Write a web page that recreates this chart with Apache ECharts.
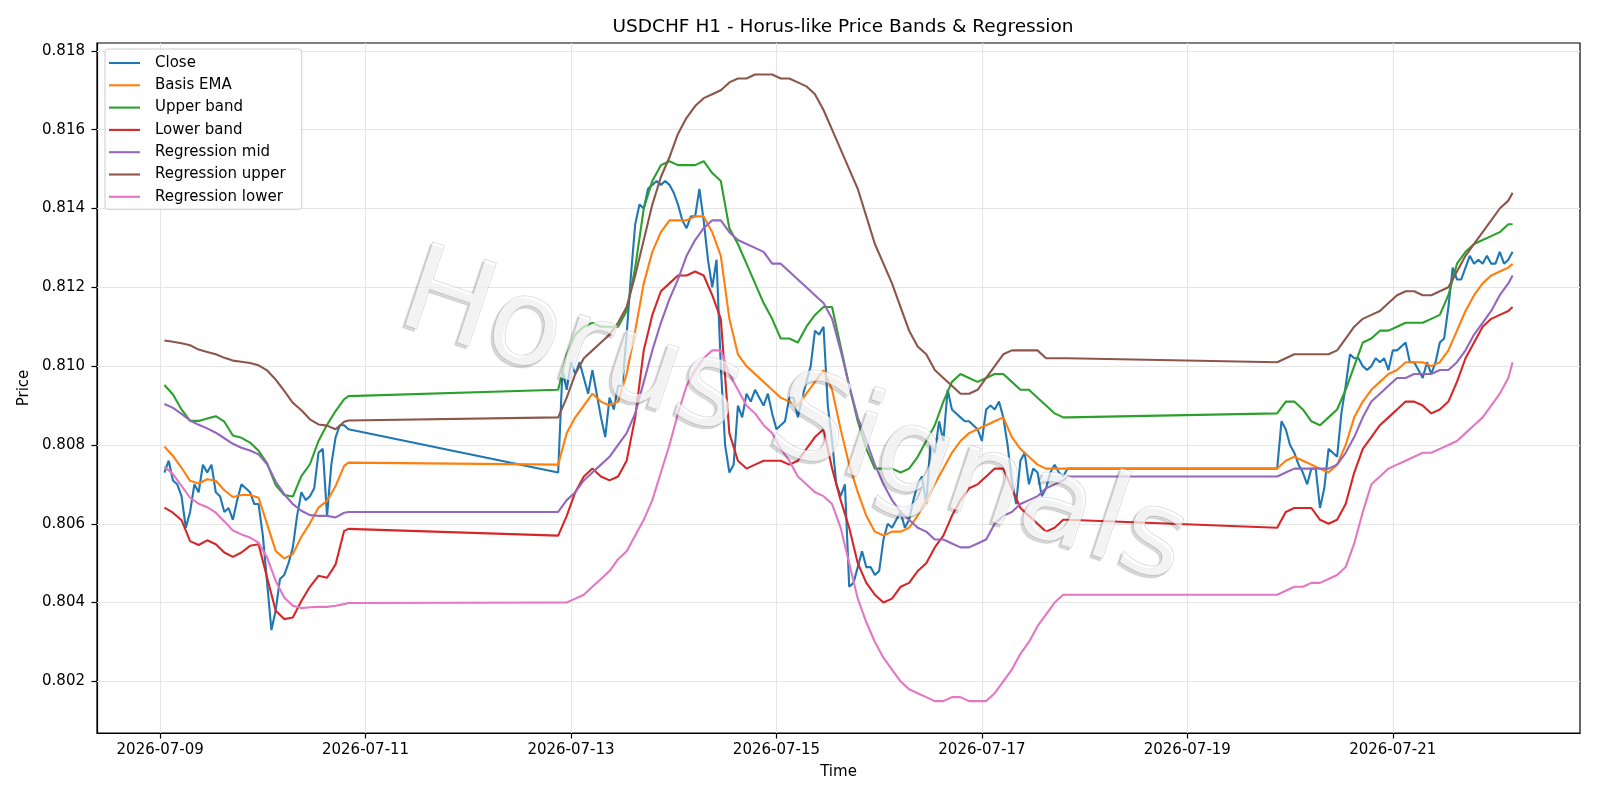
<!DOCTYPE html>
<html>
<head>
<meta charset="utf-8">
<title>USDCHF H1 - Horus-like Price Bands & Regression</title>
<script src="https://cdn.jsdelivr.net/npm/echarts@6.0.0/dist/echarts.min.js"></script>
<style>
  html, body { margin: 0; padding: 0; background: #ffffff; }
  #chart { width: 1600px; height: 800px; }
</style>
</head>
<body>
<div id="chart"></div>
<script>
// hourly bars, one block per trading week part (UTC start, number of bars)
const sessionStarts = ['2026-07-09T01:00:00Z', '2026-07-12T21:00:00Z', '2026-07-19T21:00:00Z'];
const sessionBars = [44, 120, 56];

// close, one value per bar
const closeVals = [
  0.8073, 0.8076, 0.8071, 0.8070, 0.8067, 0.8059, 0.8063, 0.8070, 0.8068, 0.8075,
  0.8073, 0.8075, 0.8068, 0.8067, 0.8063, 0.8064, 0.8061, 0.8066, 0.8070, 0.8069,
  0.8068, 0.8065, 0.8065, 0.8057, 0.8045, 0.8033, 0.8038, 0.8046, 0.8047, 0.8050,
  0.8054, 0.8062, 0.8068, 0.8066, 0.8067, 0.8069, 0.8078, 0.8079, 0.8062, 0.8075,
  0.8082, 0.8085, 0.8085, 0.8084,

  0.8073, 0.8099, 0.8094, 0.8101, 0.8098, 0.8101, 0.8097, 0.8093, 0.8099, 0.8093,
  0.8087, 0.8082, 0.8092, 0.8089, 0.8095, 0.8095, 0.8108, 0.8123, 0.8136, 0.8141,
  0.8140, 0.8145, 0.8146, 0.8147, 0.8146, 0.8147, 0.8146, 0.8144, 0.8141, 0.8137,
  0.8135, 0.8138, 0.8138, 0.8145, 0.8137, 0.8127, 0.8120, 0.8127, 0.8100, 0.8080,
  0.8073, 0.8075, 0.8090, 0.8087, 0.8093, 0.8091, 0.8094, 0.8092, 0.8090, 0.8093,
  0.8088, 0.8084, 0.8085, 0.8086, 0.8092, 0.8092, 0.8087, 0.8092, 0.8096, 0.8100,
  0.8109, 0.8108, 0.8110, 0.8090, 0.8081, 0.8070, 0.8067, 0.8070, 0.8044, 0.8045,
  0.8049, 0.8053, 0.8049, 0.8049, 0.8047, 0.8048, 0.8056, 0.8060, 0.8059, 0.8061,
  0.8063, 0.8059, 0.8061, 0.8066, 0.8070, 0.8072, 0.8065, 0.8080, 0.8078, 0.8086,
  0.8081, 0.8094, 0.8089, 0.8088, 0.8087, 0.8086, 0.8086, 0.8085, 0.8084, 0.8081,
  0.8089, 0.8090, 0.8089, 0.8091, 0.8087, 0.8080, 0.8071, 0.8065, 0.8076, 0.8078,
  0.8070, 0.8074, 0.8073, 0.8067, 0.8069, 0.8073, 0.8075, 0.8073, 0.8072, 0.8074,

  0.8074, 0.8086, 0.8084, 0.8080, 0.8078, 0.8075, 0.8073, 0.8070, 0.8074, 0.8074,
  0.8064, 0.8069, 0.8079, 0.8078, 0.8077, 0.8088, 0.8095, 0.8103, 0.8102, 0.8102,
  0.8100, 0.8099, 0.8100, 0.8102, 0.8101, 0.8102, 0.8099, 0.8104, 0.8104, 0.8105,
  0.8106, 0.8101, 0.8101, 0.8099, 0.8097, 0.8101, 0.8098, 0.8101, 0.8106, 0.8107,
  0.8115, 0.8125, 0.8122, 0.8122, 0.8125, 0.8128, 0.8126, 0.8127, 0.8126, 0.8128,
  0.8126, 0.8126, 0.8129, 0.8126, 0.8127, 0.8129
];

// indicator lines, read every 2nd bar plus the last bar of each block
const basisEma = [
  0.80796, 0.80772, 0.80742, 0.80709, 0.80702, 0.80713, 0.80709, 0.80685, 0.80668, 0.80673,
  0.80673, 0.80666, 0.80599, 0.80531, 0.80512, 0.80523, 0.80567, 0.80601, 0.80641, 0.80658,
  0.80696, 0.80747, 0.80755,
  0.8075, 0.8083, 0.8087, 0.8090, 0.8093, 0.8091, 0.8090, 0.8091, 0.8098, 0.8109,
  0.8121, 0.8129, 0.8134, 0.8137, 0.8137, 0.8137, 0.8138, 0.8138, 0.8134, 0.8128,
  0.8112, 0.8103, 0.8100, 0.8098, 0.8096, 0.8094, 0.8092, 0.8091, 0.8090, 0.8093,
  0.8096, 0.8099, 0.8094, 0.8084, 0.8075, 0.8068, 0.8062, 0.8058, 0.8057, 0.8058,
  0.8058, 0.8059, 0.8062, 0.8066, 0.8070, 0.8074, 0.8078, 0.8081, 0.8083, 0.8084,
  0.8085, 0.8086, 0.8087, 0.8082, 0.8079, 0.8077, 0.8075, 0.8074, 0.8074, 0.8074,
  0.8074,
  0.8074, 0.8076, 0.8077, 0.8076, 0.8075, 0.8074, 0.8073, 0.8075, 0.8080, 0.8087,
  0.8091, 0.8094, 0.8096, 0.8098, 0.8099, 0.8101, 0.8101, 0.8101, 0.8100, 0.8101,
  0.8104, 0.8109, 0.8114, 0.8118, 0.8121, 0.8123, 0.8124, 0.8125, 0.8126
];
const upperBand = [
  0.80952, 0.80928, 0.80890, 0.80861, 0.80861, 0.80867, 0.80873, 0.80859, 0.80824, 0.80818,
  0.80806, 0.80785, 0.80753, 0.80698, 0.80673, 0.80669, 0.80721, 0.80751, 0.80810, 0.80851,
  0.80886, 0.80916, 0.80924,
  0.8094, 0.8103, 0.8108, 0.8110, 0.8111, 0.8110, 0.8110, 0.8110, 0.8114, 0.8125,
  0.8140, 0.8147, 0.8151, 0.8152, 0.8151, 0.8151, 0.8151, 0.8152, 0.8149, 0.8147,
  0.8135, 0.8131, 0.8126, 0.8121, 0.8116, 0.8112, 0.8107, 0.8107, 0.8106, 0.8110,
  0.8113, 0.8115, 0.8115, 0.8105, 0.8095, 0.8086, 0.8079, 0.8074, 0.8074, 0.8074,
  0.8073, 0.8074, 0.8077, 0.8081, 0.8085, 0.8091, 0.8096, 0.8098, 0.8097, 0.8096,
  0.8097, 0.8098, 0.8098, 0.8096, 0.8094, 0.8094, 0.8092, 0.8090, 0.8088, 0.8087,
  0.8087,
  0.8088, 0.8091, 0.8091, 0.8089, 0.8086, 0.8085, 0.8087, 0.8089, 0.8094, 0.8100,
  0.8106, 0.8107, 0.8109, 0.8109, 0.8110, 0.8111, 0.8111, 0.8111, 0.8112, 0.8113,
  0.8118, 0.8126, 0.8129, 0.8131, 0.8132, 0.8133, 0.8134, 0.8136, 0.8136
];
const lowerBand = [
  0.80641, 0.80628, 0.80609, 0.80556, 0.80546, 0.80558, 0.80548, 0.80527, 0.80516, 0.80527,
  0.80544, 0.80548, 0.80463, 0.80379, 0.80358, 0.80362, 0.80404, 0.80440, 0.80468, 0.80463,
  0.80497, 0.80582, 0.80587,
  0.8057, 0.8062, 0.8068, 0.8072, 0.8074, 0.8072, 0.8071, 0.8072, 0.8076, 0.8087,
  0.8104, 0.8113, 0.8119, 0.8121, 0.8123, 0.8123, 0.8124, 0.8123, 0.8118, 0.8112,
  0.8083, 0.8076, 0.8074, 0.8075, 0.8076, 0.8076, 0.8076, 0.8075, 0.8076, 0.8079,
  0.8082, 0.8084, 0.8074, 0.8066, 0.8059, 0.8050, 0.8045, 0.8042, 0.8040, 0.8041,
  0.8044, 0.8045, 0.8048, 0.8050, 0.8054, 0.8057, 0.8062, 0.8066, 0.8069, 0.8070,
  0.8072, 0.8074, 0.8074, 0.8069, 0.8064, 0.8062, 0.8060, 0.8058, 0.8059, 0.8061,
  0.8061,
  0.8059, 0.8063, 0.8064, 0.8064, 0.8064, 0.8061, 0.8060, 0.8061, 0.8065, 0.8073,
  0.8079, 0.8082, 0.8085, 0.8087, 0.8089, 0.8091, 0.8091, 0.8090, 0.8088, 0.8089,
  0.8091, 0.8096, 0.8102, 0.8106, 0.8110, 0.8112, 0.8113, 0.8114, 0.8115
];
const regMid = [
  0.80904, 0.80894, 0.80879, 0.80862, 0.80851, 0.80842, 0.80831, 0.80817, 0.80803, 0.80793,
  0.80786, 0.80776, 0.80751, 0.80707, 0.80675, 0.80650, 0.80633, 0.80622, 0.80620, 0.80620,
  0.80616, 0.80628, 0.80630,
  0.8063, 0.8066, 0.8068, 0.8071, 0.8073, 0.8075, 0.8077, 0.8080, 0.8083, 0.8088,
  0.8096, 0.8104, 0.8111, 0.8117, 0.8122, 0.8128, 0.8132, 0.8135, 0.8137, 0.8137,
  0.8134, 0.8132, 0.8131, 0.8130, 0.8129, 0.8126, 0.8126, 0.8124, 0.8122, 0.8120,
  0.8118, 0.8116, 0.8112, 0.8104, 0.8095, 0.8087, 0.8081, 0.8075, 0.8070, 0.8066,
  0.8063, 0.8061, 0.8059, 0.8058, 0.8056, 0.8056, 0.8055, 0.8054, 0.8054, 0.8055,
  0.8056, 0.8060, 0.8062, 0.8063, 0.8065, 0.8066, 0.8067, 0.8069, 0.8070, 0.8071,
  0.8072,
  0.8072, 0.8073, 0.8074, 0.8074, 0.8074, 0.8074, 0.8074, 0.8075, 0.8078, 0.8082,
  0.8087, 0.8091, 0.8093, 0.8095, 0.8097, 0.8097, 0.8098, 0.8098, 0.8098, 0.8099,
  0.8099, 0.8101, 0.8104, 0.8108, 0.8111, 0.8114, 0.8118, 0.8121, 0.8123
];
const regUpper = [
  0.81065, 0.81062, 0.81058, 0.81053, 0.81042, 0.81036, 0.81030, 0.81021, 0.81014, 0.81011,
  0.81008, 0.81002, 0.80989, 0.80966, 0.80937, 0.80907, 0.80888, 0.80865, 0.80852, 0.80849,
  0.80840, 0.80859, 0.80862,
  0.8087, 0.8092, 0.8098, 0.8102, 0.8104, 0.8106, 0.8108, 0.8111, 0.8115, 0.8123,
  0.8132, 0.8141, 0.8148, 0.8153, 0.8159, 0.8163, 0.8166, 0.8168, 0.8169, 0.8170,
  0.8172, 0.8173, 0.8173, 0.8174, 0.8174, 0.8174, 0.8173, 0.8173, 0.8172, 0.8171,
  0.8169, 0.8165, 0.8160, 0.8155, 0.8150, 0.8145, 0.8138, 0.8131, 0.8126, 0.8121,
  0.8115, 0.8109, 0.8105, 0.8103, 0.8099, 0.8097, 0.8095, 0.8093, 0.8093, 0.8094,
  0.8097, 0.8100, 0.8103, 0.8104, 0.8104, 0.8104, 0.8104, 0.8102, 0.8102, 0.8102,
  0.8102,
  0.8101, 0.8102, 0.8103, 0.8103, 0.8103, 0.8103, 0.8103, 0.8104, 0.8107, 0.8110,
  0.8112, 0.8113, 0.8114, 0.8116, 0.8118, 0.8119, 0.8119, 0.8118, 0.8118, 0.8119,
  0.8120, 0.8124, 0.8128, 0.8131, 0.8134, 0.8137, 0.8140, 0.8142, 0.8144
];
const regLower = [
  0.80745, 0.80726, 0.80696, 0.80666, 0.80651, 0.80642, 0.80628, 0.80606, 0.80583, 0.80573,
  0.80565, 0.80552, 0.80514, 0.80455, 0.80413, 0.80392, 0.80386, 0.80388, 0.80389, 0.80389,
  0.80392, 0.80396, 0.80399,
  0.8040, 0.8040, 0.8041, 0.8042, 0.8044, 0.8046, 0.8048, 0.8051, 0.8053, 0.8057,
  0.8061, 0.8066, 0.8073, 0.8080, 0.8088, 0.8095, 0.8099, 0.8102, 0.8104, 0.8104,
  0.8098, 0.8094, 0.8090, 0.8088, 0.8085, 0.8083, 0.8079, 0.8076, 0.8072, 0.8070,
  0.8068, 0.8067, 0.8065, 0.8059, 0.8050, 0.8041, 0.8035, 0.8030, 0.8026, 0.8023,
  0.8020, 0.8018, 0.8017, 0.8016, 0.8015, 0.8015, 0.8016, 0.8016, 0.8015, 0.8015,
  0.8015, 0.8017, 0.8020, 0.8023, 0.8027, 0.8030, 0.8034, 0.8037, 0.8040, 0.8042,
  0.8042,
  0.8042, 0.8043, 0.8044, 0.8044, 0.8045, 0.8045, 0.8046, 0.8047, 0.8049, 0.8055,
  0.8063, 0.8070, 0.8072, 0.8074, 0.8075, 0.8076, 0.8077, 0.8078, 0.8078, 0.8079,
  0.8080, 0.8081, 0.8083, 0.8085, 0.8087, 0.8090, 0.8093, 0.8097, 0.8101
];

const xTickLabels = ['2026-07-09', '2026-07-11', '2026-07-13', '2026-07-15', '2026-07-17', '2026-07-19', '2026-07-21'];
const yTicks = [0.802, 0.804, 0.806, 0.808, 0.810, 0.812, 0.814, 0.816, 0.818];

const colors = ['#1f77b4', '#ff7f0e', '#2ca02c', '#d62728', '#9467bd', '#8c564b', '#e377c2'];
const font = 'DejaVu Sans';

// axis ranges
const xMin = Date.parse('2026-07-08T09:15:00Z');
const xMax = Date.parse('2026-07-22T19:45:00Z');
const yMin = 0.80069;
const yMax = 0.8182;

// timestamps of every bar, and of the bars where the indicator lines were read
const HOUR = 3600 * 1000;
const barTimes = [];
const lineTimes = [];
sessionStarts.forEach(function (s, k) {
  const t0 = Date.parse(s);
  for (let i = 0; i < sessionBars[k]; i++) {
    barTimes.push(t0 + i * HOUR);
    if (i % 2 === 0 || i === sessionBars[k] - 1) {
      lineTimes.push(t0 + i * HOUR);
    }
  }
});

function pairs(times, vals) {
  return vals.map(function (v, i) { return [times[i], v]; });
}

const xTickValues = xTickLabels.map(function (d) { return Date.parse(d + 'T00:00:00Z'); });

// light grid, one segment per tick
const gridSegments = xTickValues.map(function (v) {
  return [{ coord: [v, yMin] }, { coord: [v, yMax] }];
}).concat(yTicks.map(function (v) {
  return [{ coord: [xMin, v] }, { coord: [xMax, v] }];
}));

function lineSeries(name, data, color) {
  return {
    name: name,
    type: 'line',
    data: data,
    symbol: 'none',
    showSymbol: false,
    animation: false,
    lineStyle: { color: color, width: 2.1 },
    itemStyle: { color: color },
    emphasis: { disabled: true }
  };
}

const chart = echarts.init(document.getElementById('chart'), null, { renderer: 'canvas' });

const option = {
  backgroundColor: '#ffffff',
  animation: false,
  textStyle: { fontFamily: font },
  title: {
    text: 'USDCHF H1 - Horus-like Price Bands & Regression',
    left: 838,
    textAlign: 'center',
    top: 13,
    textStyle: { fontFamily: font, fontSize: 18.5, fontWeight: 'normal', color: '#000' }
  },
  legend: {
    data: ['Close', 'Basis EMA', 'Upper band', 'Lower band', 'Regression mid', 'Regression upper', 'Regression lower'],
    orient: 'vertical',
    left: 105,
    top: 49,
    z: 10,
    icon: 'rect',
    itemWidth: 31,
    itemHeight: 2.1,
    itemGap: 7.3,
    padding: [6.5, 16, 5, 4],
    backgroundColor: 'rgba(255,255,255,0.8)',
    borderColor: '#cccccc',
    borderWidth: 1,
    borderRadius: 3,
    textStyle: { fontFamily: font, fontSize: 15, color: '#000', padding: [0, 0, 0, 10] }
  },
  grid: {
    left: 97, right: 20, top: 43, bottom: 67,
    show: true, borderColor: '#000', borderWidth: 1.2,
    outerBoundsMode: 'none'
  },
  xAxis: {
    type: 'value',
    min: xMin,
    max: xMax,
    name: 'Time',
    nameLocation: 'middle',
    nameGap: 32,
    nameTextStyle: { fontFamily: font, fontSize: 15, color: '#000' },
    axisLine: { show: true, lineStyle: { color: '#000', width: 1.2 } },
    axisTick: { show: true, customValues: xTickValues, length: 5.5, lineStyle: { color: '#000', width: 1.2 } },
    axisLabel: {
      customValues: xTickValues,
      fontFamily: font, fontSize: 15, color: '#000', margin: 10,
      formatter: function (v) { return xTickLabels[xTickValues.indexOf(v)] || ''; }
    },
    splitLine: { show: false }
  },
  yAxis: {
    type: 'value',
    min: yMin,
    max: yMax,
    name: 'Price',
    nameLocation: 'middle',
    nameGap: 61,
    nameRotate: 90,
    nameTextStyle: { fontFamily: font, fontSize: 15, color: '#000' },
    axisLine: { show: true, lineStyle: { color: '#000', width: 1.2 } },
    axisTick: { show: true, customValues: yTicks, length: 5.5, lineStyle: { color: '#000', width: 1.2 } },
    axisLabel: {
      customValues: yTicks,
      fontFamily: font, fontSize: 15, color: '#000', margin: 12,
      formatter: function (v) { return v.toFixed(3); }
    },
    splitLine: { show: false }
  },
  // watermark over the plot
  graphic: [{
    type: 'text',
    x: 793,
    y: 422,
    rotation: -18.5 * Math.PI / 180,
    z: 8,
    silent: true,
    style: {
      text: 'Horus Signals',
      fontFamily: font,
      fontSize: 120,
      fill: 'rgba(255,255,255,0.7)',
      stroke: 'rgba(170,170,170,0.55)',
      lineWidth: 1,
      align: 'center',
      verticalAlign: 'middle',
      textShadowBlur: 1,
      textShadowColor: 'rgba(0,0,0,0.22)',
      textShadowOffsetX: -2.5,
      textShadowOffsetY: 2.5
    }
  }],
  series: [
    {
      name: 'grid',
      type: 'line',
      data: [],
      animation: false,
      silent: true,
      z: 1,
      markLine: {
        z: 1,
        silent: true,
        animation: false,
        symbol: ['none', 'none'],
        label: { show: false },
        emphasis: { disabled: true },
        lineStyle: { color: '#e6e6e6', width: 1.1, type: 'solid' },
        data: gridSegments
      }
    },
    lineSeries('Close', pairs(barTimes, closeVals), colors[0]),
    lineSeries('Basis EMA', pairs(lineTimes, basisEma), colors[1]),
    lineSeries('Upper band', pairs(lineTimes, upperBand), colors[2]),
    lineSeries('Lower band', pairs(lineTimes, lowerBand), colors[3]),
    lineSeries('Regression mid', pairs(lineTimes, regMid), colors[4]),
    lineSeries('Regression upper', pairs(lineTimes, regUpper), colors[5]),
    lineSeries('Regression lower', pairs(lineTimes, regLower), colors[6])
  ]
};

chart.setOption(option);
</script>
</body>
</html>
